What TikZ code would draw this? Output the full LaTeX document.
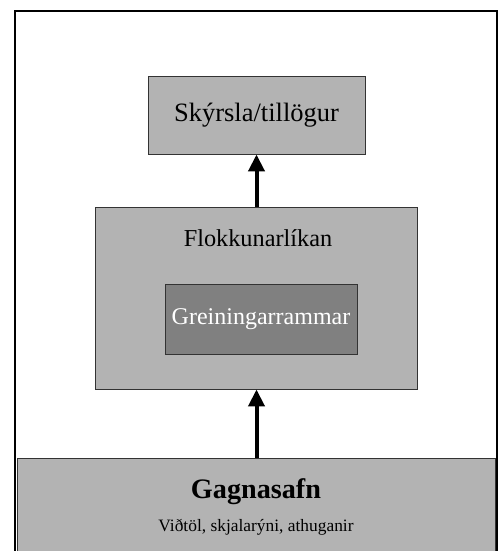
\documentclass[tikz,border=0pt]{standalone}
\usepackage{fontspec}
\setmainfont{Liberation Serif}
\usetikzlibrary{arrows.meta, positioning}
\definecolor{boxgray}{RGB}{179,179,179}
\definecolor{innergray}{RGB}{128,128,128}

\begin{document}
\begin{tikzpicture}[x=1pt, y=-1pt, every node/.style={align=center},
  box/.style={draw=black!80, fill=boxgray, line width=0.9pt, inner sep=0pt},
  flow/.style={-{Triangle[length=17pt,width=16pt]}, line width=4pt}]
\useasboundingbox (0,0) rectangle (498,551);
\draw[line width=1.5pt] (15,600) -- (15,11) -- (497,11) -- (497,600);
\node (Report) [box, minimum width=217pt, minimum height=78pt, font=\fontsize{26.5}{30}\selectfont] at (256.5,115) {Skýrsla/tillögur};
\node (Model) [box, minimum width=322pt, minimum height=182pt] at (256.5,298) {};
\node (ModelLabel) [font=\fontsize{24.3}{28}\selectfont] at (258,238) {Flokkunarlíkan};
\node (Frame) [box, fill=innergray, text=white, minimum width=192pt, minimum height=70pt, font=\fontsize{24}{28}\selectfont] at (261,319) {Greiningarrammar};
\node (Data) [box, minimum width=478pt, minimum height=142pt] at (256.5,529) {};
\node (DataTitle) [font=\bfseries\fontsize{28.2}{32}\selectfont] at (256,492) {Gagnasafn};
\node (DataSub) [font=\fontsize{17.4}{20}\selectfont] at (256,527) {Viðtöl, skjalarýni, athuganir};
\draw[flow] (Model.north) -- (Model.north |- Report.south);
\draw[flow] (Data.north) -- (Data.north |- Model.south);
\end{tikzpicture}
\end{document}
